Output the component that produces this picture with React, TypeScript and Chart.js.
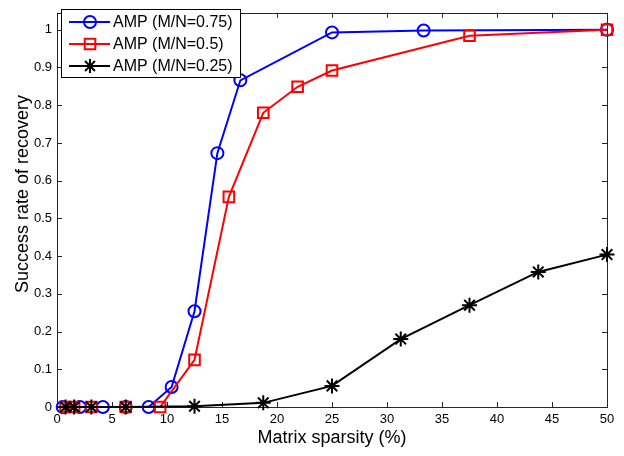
import React, { useEffect, useRef } from 'react';
import { Chart, registerables } from 'chart.js';

Chart.register(...registerables);

// ---- data ----
const seriesLabels = ['AMP (M/N=0.75)', 'AMP (M/N=0.5)', 'AMP (M/N=0.25)'];

const sparsityHigh = [0.52, 2.08, 4.17, 6.25, 8.33, 10.42, 12.5, 14.58, 16.67, 25, 33.33, 50];
const successHigh = [0, 0, 0, 0, 0, 0.053, 0.254, 0.673, 0.866, 0.993, 0.998, 1.0];

const sparsityMid = [0.78, 1.56, 3.125, 6.25, 9.375, 12.5, 15.625, 18.75, 21.875, 25, 37.5, 50];
const successMid = [0, 0, 0, 0, 0, 0.125, 0.557, 0.78, 0.849, 0.892, 0.984, 1.0];

const sparsityLow = [0.78, 1.56, 3.125, 6.25, 12.5, 18.75, 25, 31.25, 37.5, 43.75, 50];
const successLow = [0, 0, 0, 0, 0.002, 0.011, 0.056, 0.18, 0.27, 0.358, 0.404];

const xTickValues = [0, 5, 10, 15, 20, 25, 30, 35, 40, 45, 50];
const yTickValues = [0, 0.1, 0.2, 0.3, 0.4, 0.5, 0.6, 0.7, 0.8, 0.9, 1];

const xTitle = 'Matrix sparsity (%)';
const yTitle = 'Success rate of recovery';

const FONT = '"Liberation Sans", Arial, Helvetica, sans-serif';
const colors = ['#0000ff', '#ff0000', '#000000'];
const styles = ['circle', 'rect', 'star'];

function pts(xs: number[], ys: number[]) {
  return xs.map((x, i) => ({ x, y: ys[i] }));
}

function drawMarker(ctx: CanvasRenderingContext2D, style: string, x: number, y: number, color: string) {
  ctx.save();
  ctx.strokeStyle = color;
  ctx.lineWidth = 2;
  ctx.beginPath();
  if (style === 'circle') {
    ctx.arc(x, y, 6, 0, Math.PI * 2);
  } else if (style === 'rect') {
    ctx.rect(x - 5.3, y - 5.3, 10.6, 10.6);
  } else {
    const r = 7;
    for (let k = 0; k < 4; k++) {
      const a = (k * Math.PI) / 4;
      ctx.moveTo(x - Math.cos(a) * r, y - Math.sin(a) * r);
      ctx.lineTo(x + Math.cos(a) * r, y + Math.sin(a) * r);
    }
  }
  ctx.stroke();
  ctx.restore();
}

const boxPlugin = {
  id: 'matlabBox',
  beforeDatasetsDraw(chart: any) {
    const { ctx, chartArea } = chart;
    const { left, right, top, bottom } = chartArea;
    const xs = chart.scales.x;
    const ys = chart.scales.y;
    ctx.save();
    ctx.strokeStyle = '#262626';
    ctx.lineWidth = 1;
    ctx.strokeRect(Math.round(left) + 0.5, Math.round(top) + 0.5, Math.round(right - left), Math.round(bottom - top));
    ctx.beginPath();
    const tl = 5;
    xTickValues.forEach((v) => {
      const px = Math.round(xs.getPixelForValue(v)) + 0.5;
      ctx.moveTo(px, bottom);
      ctx.lineTo(px, bottom - tl);
      ctx.moveTo(px, top);
      ctx.lineTo(px, top + tl);
    });
    yTickValues.forEach((v) => {
      const py = Math.round(ys.getPixelForValue(v)) + 0.5;
      ctx.moveTo(left, py);
      ctx.lineTo(left + tl, py);
      ctx.moveTo(right, py);
      ctx.lineTo(right - tl, py);
    });
    ctx.stroke();
    // y axis title
    ctx.translate(23, 194);
    ctx.rotate(-Math.PI / 2);
    ctx.font = `18px ${FONT}`;
    ctx.fillStyle = '#000';
    ctx.textAlign = 'center';
    ctx.textBaseline = 'middle';
    ctx.fillText(yTitle, 0, 0);
    ctx.restore();
  },
  afterDraw(chart: any) {
    const { ctx } = chart;
    const bx = 61.5, by = 9.5, bw = 179, bh = 68;
    ctx.save();
    ctx.fillStyle = '#ffffff';
    ctx.fillRect(bx, by, bw, bh);
    ctx.strokeStyle = '#000000';
    ctx.lineWidth = 1;
    ctx.strokeRect(bx, by, bw, bh);
    ctx.font = `16px ${FONT}`;
    ctx.textBaseline = 'middle';
    ctx.textAlign = 'left';
    seriesLabels.forEach((label, i) => {
      const cy = 22 + i * 22;
      ctx.strokeStyle = colors[i];
      ctx.lineWidth = 2;
      ctx.beginPath();
      ctx.moveTo(69, cy);
      ctx.lineTo(110, cy);
      ctx.stroke();
      drawMarker(ctx, styles[i], 90, cy, colors[i]);
      ctx.fillStyle = '#000000';
      ctx.fillText(label, 113, cy + 1);
    });
    ctx.restore();
  },
};

export default function App() {
  const ref = useRef<HTMLCanvasElement | null>(null);
  useEffect(() => {
    if (!ref.current) return;
    const mk = (i: number, xs: number[], ys: number[], order: number, radius: number) => ({
      label: seriesLabels[i],
      data: pts(xs, ys),
      borderColor: colors[i],
      backgroundColor: 'rgba(0,0,0,0)',
      borderWidth: 2,
      pointStyle: styles[i] as any,
      pointRadius: radius,
      pointBorderWidth: 2,
      pointBorderColor: colors[i],
      pointBackgroundColor: 'rgba(0,0,0,0)',
      tension: 0,
      clip: false as any,
      order,
    });
    const chart = new Chart(ref.current, {
      type: 'line',
      data: {
        datasets: [
          mk(0, sparsityHigh, successHigh, 2, 6),
          mk(1, sparsityMid, successMid, 1, 7.5),
          mk(2, sparsityLow, successLow, 0, 7.5),
        ],
      },
      plugins: [boxPlugin],
      options: {
        animation: false,
        responsive: false,
        devicePixelRatio: 1,
        layout: { padding: { top: 5, right: 17, left: 0, bottom: 0 } },
        plugins: { legend: { display: false }, tooltip: { enabled: false } },
        scales: {
          x: {
            type: 'linear',
            min: 0,
            max: 50,
            grid: { display: false, drawTicks: false },
            border: { display: false },
            afterFit: (s: any) => { s.height = 49; },
            ticks: {
              stepSize: 5,
              padding: 5,
              color: '#000',
              font: { family: FONT, size: 13 },
              maxRotation: 0,
              includeBounds: false,
              callback: (v: any) => String(v),
            },
            title: {
              display: true,
              text: xTitle,
              color: '#000',
              font: { family: FONT, size: 18 },
              padding: { top: 0, bottom: 7 },
            },
          },
          y: {
            type: 'linear',
            min: 0,
            max: 1.045,
            grid: { display: false, drawTicks: false },
            border: { display: false },
            afterFit: (s: any) => { s.width = 57; },
            ticks: {
              stepSize: 0.1,
              padding: 5,
              color: '#000',
              font: { family: FONT, size: 13 },
              includeBounds: false,
              callback: (v: any) => String(parseFloat(Number(v).toFixed(1))),
            },
            title: { display: false },
          },
        },
      },
    });
    return () => chart.destroy();
  }, []);
  return (
    <div style={{ position: 'fixed', left: 0, top: 0, width: 624, height: 456, background: '#fff' }}>
      <canvas ref={ref} width={624} height={456} style={{ width: 624, height: 456 }} />
    </div>
  );
}
